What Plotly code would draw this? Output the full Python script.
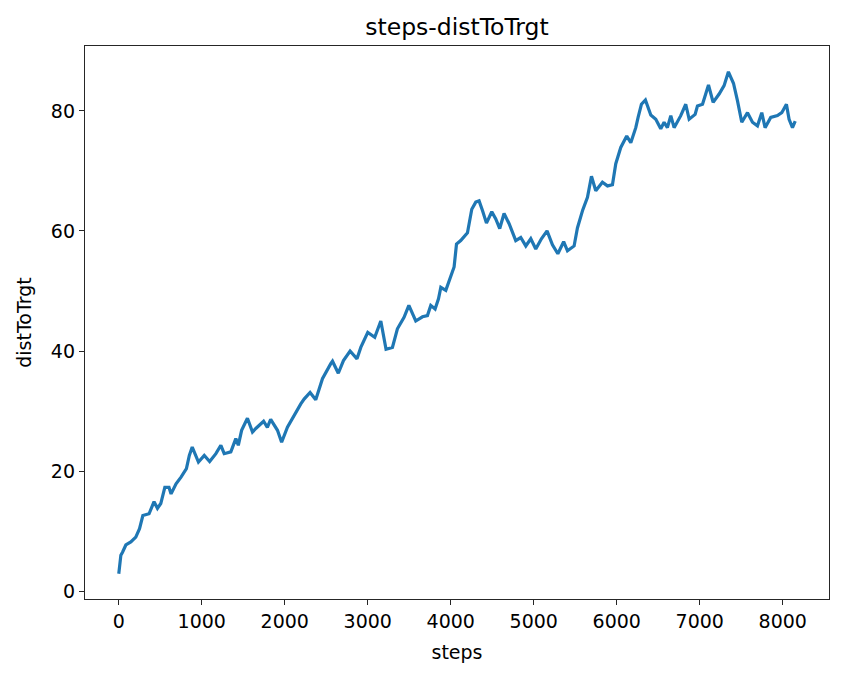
import plotly.graph_objects as go

# values (steps -> distToTrgt)
steps = [0, 25, 45, 85, 145, 205, 250, 290, 365, 425, 466, 506, 555, 605, 630,
         690, 750, 815, 850, 885, 960, 1030, 1095, 1170, 1230, 1270, 1350, 1410,
         1440, 1480, 1550, 1611, 1651, 1745, 1790, 1830, 1912, 1962, 2032, 2080,
         2112, 2193, 2233, 2305, 2373, 2454, 2554, 2575, 2645, 2707, 2787, 2870,
         2916, 3000, 3084, 3157, 3220, 3297, 3357, 3437, 3495, 3578, 3659, 3719,
         3759, 3811, 3852, 3880, 3940, 4000, 4040, 4069, 4120, 4201, 4253, 4301,
         4341, 4382, 4430, 4494, 4542, 4590, 4642, 4703, 4783, 4843, 4904, 4964,
         5024, 5092, 5160, 5225, 5290, 5360, 5406, 5486, 5526, 5590, 5647, 5695,
         5747, 5827, 5888, 5948, 5988, 6048, 6120, 6169, 6229, 6257, 6297, 6345,
         6410, 6470, 6530, 6570, 6610, 6651, 6691, 6771, 6831, 6872, 6944, 6972,
         7033, 7105, 7161, 7233, 7293, 7345, 7406, 7454, 7506, 7575, 7635, 7695,
         7747, 7787, 7855, 7936, 7988, 8044, 8076, 8117, 8150]

dist_to_trgt = [2.9, 6.0, 6.5, 7.7, 8.2, 9.0, 10.4, 12.6, 12.9, 14.9, 13.8, 14.6,
                17.3, 17.3, 16.2, 17.9, 19.0, 20.4, 22.6, 24.0, 21.5, 22.6, 21.6,
                22.9, 24.3, 22.9, 23.2, 25.4, 24.3, 26.8, 28.8, 26.5, 27.1, 28.3,
                27.3, 28.6, 26.8, 24.8, 27.3, 28.5, 29.3, 31.2, 32.0, 33.1, 31.9,
                35.4, 37.9, 38.3, 36.3, 38.4, 40.0, 38.7, 40.6, 43.1, 42.3, 45.0,
                40.3, 40.6, 43.7, 45.6, 47.6, 45.0, 45.7, 45.9, 47.6, 47.0, 48.7,
                50.6, 50.1, 52.5, 54.0, 57.8, 58.4, 59.7, 63.6, 64.8, 65.0, 63.4,
                61.3, 63.2, 62.0, 60.4, 62.9, 61.2, 58.4, 58.9, 57.5, 58.7, 57.0,
                58.7, 60.0, 57.7, 56.2, 58.2, 56.7, 57.5, 60.5, 63.5, 65.6, 69.1,
                66.7, 68.1, 67.5, 67.7, 71.2, 73.9, 75.8, 74.7, 77.2, 78.9, 81.1,
                81.8, 79.3, 78.6, 77.0, 78.1, 77.2, 79.2, 77.2, 79.2, 81.1, 78.6,
                79.4, 80.8, 81.1, 84.3, 81.4, 82.8, 84.2, 86.5, 84.6, 81.7, 78.1,
                79.7, 78.1, 77.5, 79.7, 77.2, 78.9, 79.2, 79.7, 81.1, 78.6, 77.2,
                78.3]

x_ticks = [0, 1000, 2000, 3000, 4000, 5000, 6000, 7000, 8000]
y_ticks = [0, 20, 40, 60, 80]

fig = go.Figure()
fig.add_trace(
    go.Scatter(
        x=steps,
        y=dist_to_trgt,
        mode="lines",
        line=dict(color="#1f77b4", width=3.2),
        showlegend=False,
    )
)

axis_style = dict(
    showline=True,
    mirror=True,
    linecolor="#262626",
    linewidth=1.4,
    ticks="outside",
    ticklen=5,
    tickwidth=1.4,
    tickcolor="#262626",
    showgrid=False,
    zeroline=False,
    tickfont=dict(size=19, color="black"),
)

fig.update_xaxes(axis_style, range=[-407, 8557], tickvals=x_ticks,
                 title=dict(text="steps", font=dict(size=19, color="black"), standoff=14))
fig.update_yaxes(axis_style, range=[-1.3, 90.8], tickvals=y_ticks,
                 title=dict(text="distToTrgt", font=dict(size=19, color="black"), standoff=14))

# page body adds ~8px offset, so margins are shifted to land the axes where the reference has them
fig.update_layout(
    width=843,
    height=678,
    margin=dict(l=77, r=22, t=38, b=87),
    plot_bgcolor="white",
    paper_bgcolor="white",
    font=dict(family="DejaVu Sans", color="black"),
    title=dict(text="steps-distToTrgt", x=0.5, xref="paper", xanchor="center",
               y=1 - 19 / 678, yanchor="middle", font=dict(size=23.5, color="black")),
)

fig.write_html("out.html")
